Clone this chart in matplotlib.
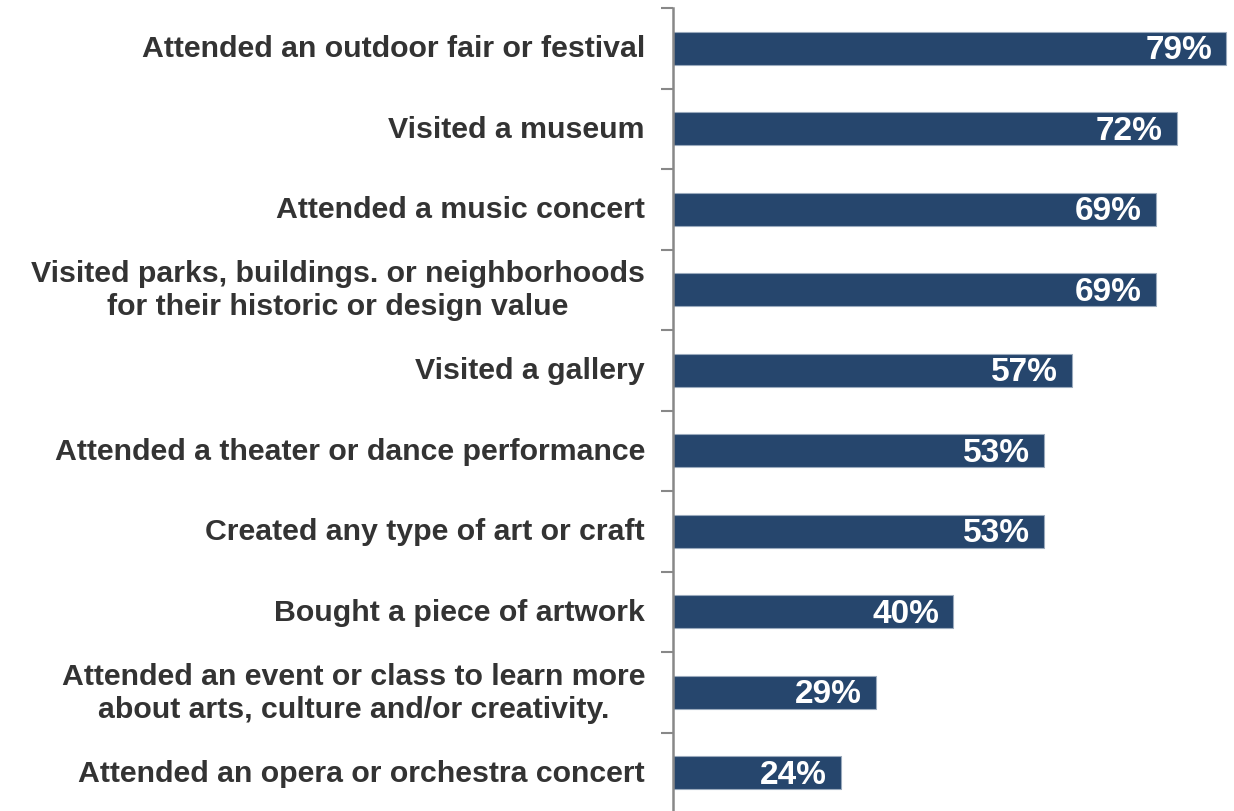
import matplotlib.pyplot as plt
import numpy as np

activities = [
    'Attended an outdoor fair or festival',
    'Visited a museum',
    'Attended a music concert',
    'Visited parks, buildings. or neighborhoods\nfor their historic or design value',
    'Visited a gallery',
    'Attended a theater or dance performance',
    'Created any type of art or craft',
    'Bought a piece of artwork',
    'Attended an event or class to learn more\nabout arts, culture and/or creativity.',
    'Attended an opera or orchestra concert',
]
percent = [79, 72, 69, 69, 57, 53, 53, 40, 29, 24]

plt.rcParams['font.family'] = ['Liberation Sans', 'DejaVu Sans']

fig = plt.figure(figsize=(12.34, 8.12), dpi=100)
ax = fig.add_axes([673 / 1234, 1 - 814 / 812, 560 / 1234, 805 / 812])

y = np.arange(len(activities))
ax.barh(y, percent, height=0.41, color='#26466d', edgecolor='#9aaabd', linewidth=0.8)

for yi, v in zip(y, percent):
    ax.text(v - 2.0, yi + 0.02, f'{v}%', ha='right', va='center', color='white',
            fontsize=24, fontweight='bold')

ax.set_xlim(0, 80)
ax.set_ylim(len(activities) - 0.5, -0.5)

# category labels drawn by hand so they can sit right-aligned with centred lines
for yi, name in zip(y, activities):
    ax.text(-4.0, yi, name, ha='right', va='center', multialignment='center',
            color='#333333', fontsize=21.8, fontweight='bold', linespacing=1.22)

ax.set_yticks([])
ax.set_yticks(np.arange(-0.5, len(activities), 1), minor=True)
ax.tick_params(axis='y', which='minor', direction='out', length=9, width=1.5,
               color='#888888', labelleft=False)
ax.set_xticks([])
for side in ['top', 'right', 'bottom']:
    ax.spines[side].set_visible(False)
ax.spines['left'].set_color('#888888')
ax.spines['left'].set_linewidth(1.8)

fig.savefig('out.png', dpi=100)
